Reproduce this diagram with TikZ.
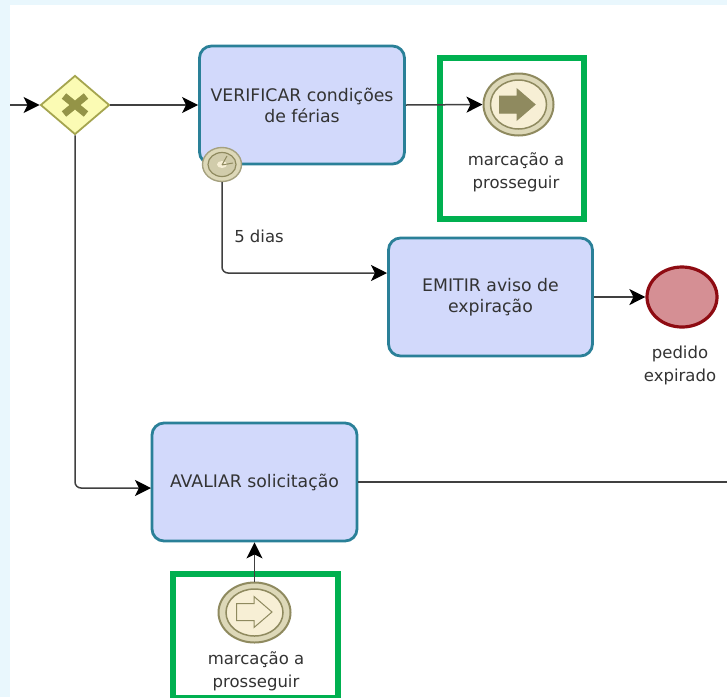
\documentclass[tikz,border=0pt]{standalone}
\usepackage{fontspec}
\setmainfont{DejaVu Sans}
\usetikzlibrary{arrows.meta,shapes.geometric}
\definecolor{bgblue}{HTML}{E9F7FD}
\definecolor{taskfill}{HTML}{D2D9FB}
\definecolor{taskline}{HTML}{2A8098}
\definecolor{evline}{HTML}{8F8A5F}
\definecolor{evfill}{HTML}{F7EFD5}
\definecolor{evouter}{HTML}{DDD8B8}
\definecolor{gwfill}{HTML}{FBFBB4}
\definecolor{gwline}{HTML}{A5A54F}
\definecolor{boxgreen}{HTML}{00B050}
\definecolor{endred}{HTML}{D58F94}
\definecolor{endline}{HTML}{8E0B12}
\definecolor{txt}{HTML}{333333}
\tikzset{
  x=1pt,y=-1pt,
  task/.style={draw=taskline,line width=2.8pt,fill=taskfill,rounded corners=12pt,
    minimum width=#1,align=center,text=txt,font=\fontsize{17.3}{21}\selectfont,inner sep=0pt},
  flow/.style={draw=black!75,line width=1.5pt,-{Stealth[black,length=16pt,width=16pt,inset=4pt]}},
  plain/.style={draw=black!75,line width=1.5pt},
  lab/.style={align=center,text=txt,font=\fontsize{16.5}{23}\selectfont,inner sep=0pt},
  greenbox/.style={draw=boxgreen,line width=6pt,inner sep=0pt},
  evring/.style 2 args={ellipse,draw=evline,line width=2pt,fill=evouter,minimum width=#1,minimum height=#2,inner sep=0pt},
  evin/.style 2 args={ellipse,draw=evline,line width=1.5pt,fill=evfill,minimum width=#1,minimum height=#2,inner sep=0pt}
}
\newcommand{\arrowglyph}[4]{% x,y,fill,draw
  \draw[fill=#3,draw=#4,line width=1pt] (#1-17.500,#2-8.500) -- (#1,#2-8.500) -- (#1,#2-15.500) -- (#1+18,#2) -- (#1,#2+15.500) -- (#1,#2+8.500) -- (#1-17.500,#2+8.500) -- cycle;}
\begin{document}
\begin{tikzpicture}
\useasboundingbox (0,0) rectangle (727,697);
\fill[bgblue] (0,0) rectangle (727,697);
\fill[white] (10,5) rectangle (727,697);
% green boxes
\node[greenbox,minimum width=144pt,minimum height=161pt] (box1) at (512,138.500) {};
\node[greenbox,minimum width=165pt,minimum height=124pt] (box2) at (255.500,636) {};
% tasks
\node[task=205pt,minimum height=118pt] (verif) at (302,105) {VERIFICAR condições\\de férias};
\node[task=204pt,minimum height=118pt] (emit) at (490.500,297) {EMITIR aviso de\\expiração};
\node[task=205pt,minimum height=118pt] (aval) at (254.500,482) {AVALIAR solicitação};
% gateway
\node[diamond,aspect=1.167,draw=gwline,line width=1.8pt,fill=gwfill,minimum width=69pt,minimum height=59pt,inner sep=0pt] (gw) at (75,105) {};
\draw[gwline!90!black,line width=7pt] (64,96) -- (86,114) (86,96) -- (64,114);
% events
\node[evring={70pt}{62pt}] (ev1) at (518.500,104.500) {};
\node[evin={56pt}{49pt}] at (518.500,104.500) {};
\arrowglyph{517}{104.500}{evline}{evline}
\node[evring={72pt}{60pt}] (ev2) at (254.500,612.500) {};
\node[evin={57pt}{47pt}] at (254.500,612.500) {};
\arrowglyph{254}{612}{evfill}{evline}
\node[ellipse,draw=endline,line width=3.2pt,fill=endred,minimum width=70pt,minimum height=60pt,inner sep=0pt] (endev) at (682,297) {};
% timer
\node[ellipse,draw=evline!80,line width=1.4pt,fill=evouter,minimum width=39pt,minimum height=34pt,inner sep=0pt] (timer) at (222,164.500) {};
\node[ellipse,draw=evline,line width=1.2pt,fill=evouter!85!evline,minimum width=28pt,minimum height=24pt,inner sep=0pt] at (222,164.500) {};
\fill[evfill] (222,164.500) ellipse[x radius=5pt,y radius=3.500pt];
\draw[evline,line width=1pt] (222,165) -- (227,156) (222,165) -- (233,163);
% labels
\node[lab] (l1) at (516,172.500) {marcação a\\prosseguir};
\node[lab] (l2) at (256,671) {marcação a\\prosseguir};
\node[lab] (l3) at (680,365.500) {pedido\\expirado};
\node[lab] (l4) at (259,236) {5 dias};
% connectors
\coordinate (in) at (10,105);
\coordinate (outr) at (727,482);
\coordinate (emitin) at (387,273);
\coordinate (avalin) at (151,488);
\draw[flow] (in) -- (gw.west);
\draw[flow] (gw.east) -- (verif.west);
\draw[flow] (verif.east) -- (ev1.west);
\draw[flow,rounded corners=6pt] (timer.south) |- (emitin);
\draw[flow] (emit.east) -- (endev.west);
\draw[flow,rounded corners=6pt] (gw.south) |- (avalin);
\draw[plain] (aval.east) -- (outr);
\draw[flow] (ev2.north) -- (aval.south);
\end{tikzpicture}
\end{document}
